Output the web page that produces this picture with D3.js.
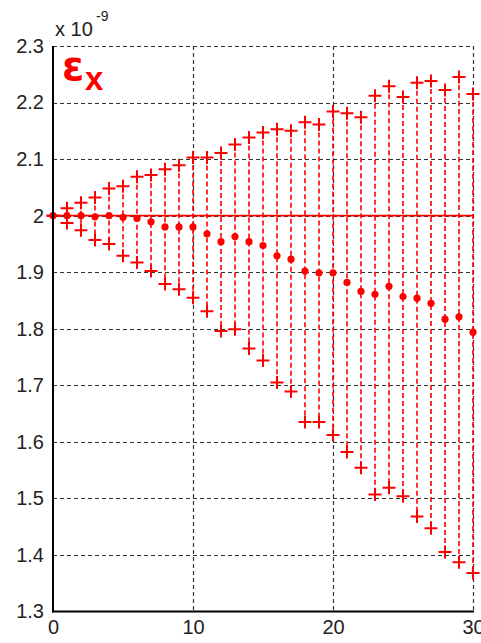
<!DOCTYPE html>
<html>
<head>
<meta charset="utf-8">
<script src="https://cdn.jsdelivr.net/npm/d3@7"></script>
<style>
  html, body { margin: 0; padding: 0; background: #fff; }
  svg { display: block; }
</style>
</head>
<body>
<svg id="chart" width="481" height="643"></svg>
<script>
// Iteration index 0..30
const steps = d3.range(0, 31);

// Upper bound, mean and lower bound of epsilon_x (units of 1e-9)
const upperValues = [2.000, 2.013, 2.023, 2.032, 2.048, 2.052, 2.069, 2.072, 2.082, 2.089, 2.103,
                     2.103, 2.111, 2.126, 2.138, 2.147, 2.153, 2.150, 2.165, 2.161, 2.184,
                     2.181, 2.174, 2.212, 2.229, 2.210, 2.235, 2.238, 2.222, 2.245, 2.215];
const meanValues  = [2.000, 2.000, 2.000, 1.998, 2.000, 1.997, 1.995, 1.989, 1.980, 1.980, 1.980,
                     1.968, 1.954, 1.963, 1.954, 1.947, 1.929, 1.923, 1.902, 1.899, 1.899,
                     1.882, 1.866, 1.861, 1.875, 1.857, 1.854, 1.845, 1.817, 1.821, 1.794];
const lowerValues = [2.000, 1.987, 1.974, 1.957, 1.950, 1.929, 1.917, 1.902, 1.879, 1.870, 1.855,
                     1.831, 1.796, 1.799, 1.765, 1.744, 1.705, 1.689, 1.635, 1.635, 1.612,
                     1.582, 1.554, 1.507, 1.519, 1.504, 1.468, 1.447, 1.405, 1.387, 1.368];

// Reference value drawn as a horizontal line
const referenceValue = 2.0;

const xTicks = [0, 10, 20, 30];
const yTicks = [1.3, 1.4, 1.5, 1.6, 1.7, 1.8, 1.9, 2.0, 2.1, 2.2, 2.3];

const svg = d3.select("#chart");
const plotLeft = 53, plotRight = 473, plotTop = 46, plotBottom = 611.5;

const x = d3.scaleLinear().domain([0, 30]).range([plotLeft, plotRight]);
const y = d3.scaleLinear().domain([1.3, 2.3]).range([plotBottom, plotTop]);

const red = "#ff0000";
const font = "'Liberation Sans', Arial, sans-serif";

// Dashed grid
const grid = svg.append("g");
grid.selectAll("line.h").data(yTicks.filter(d => d > 1.3)).join("line")
  .attr("x1", plotLeft).attr("x2", plotRight)
  .attr("y1", d => Math.round(y(d)) + 0.5).attr("y2", d => Math.round(y(d)) + 0.5)
  .attr("stroke", "#333").attr("stroke-width", 1.2).attr("stroke-dasharray", "4,3");
grid.selectAll("line.v").data(xTicks.filter(d => d > 0)).join("line")
  .attr("x1", d => Math.round(x(d)) + 0.5).attr("x2", d => Math.round(x(d)) + 0.5)
  .attr("y1", plotTop).attr("y2", plotBottom)
  .attr("stroke", "#333").attr("stroke-width", 1.2).attr("stroke-dasharray", "4,3");

// Red dashed range lines between lower and upper bound
const series = steps.map((s, i) => ({ s, up: upperValues[i], mean: meanValues[i], low: lowerValues[i] }));
svg.append("g").selectAll("line").data(series).join("line")
  .attr("x1", d => x(d.s)).attr("x2", d => x(d.s))
  .attr("y1", d => y(d.up)).attr("y2", d => y(d.low))
  .attr("stroke", red).attr("stroke-width", 1.6).attr("stroke-dasharray", "5,3");

// Reference line
svg.append("line")
  .attr("x1", x(0)).attr("x2", x(30))
  .attr("y1", y(referenceValue)).attr("y2", y(referenceValue))
  .attr("stroke", red).attr("stroke-width", 1.6);

// Plus markers for the bounds
const arm = 6.5;
function plus(g, key) {
  g.append("g").selectAll("path").data(series).join("path")
    .attr("d", d => {
      const cx = x(d.s), cy = y(d[key]);
      return `M${cx - arm},${cy}H${cx + arm}M${cx},${cy - arm}V${cy + arm}`;
    })
    .attr("stroke", red).attr("stroke-width", 2).attr("fill", "none");
}
plus(svg, "up");
plus(svg, "low");

// Mean dots
svg.append("g").selectAll("circle").data(series).join("circle")
  .attr("cx", d => x(d.s)).attr("cy", d => y(d.mean)).attr("r", 3.6)
  .attr("fill", red);

// Axes (left and bottom only)
const yAxis = d3.axisLeft(y).tickValues(yTicks).tickSize(0).tickPadding(9)
  .tickFormat(d => d === 2 ? "2" : d3.format(".1f")(d));
const gy = svg.append("g").attr("transform", `translate(${plotLeft},0)`).call(yAxis);
const xAxis = d3.axisBottom(x).tickValues(xTicks).tickSize(0).tickPadding(8)
  .tickFormat(d3.format("d"));
const gx = svg.append("g").attr("transform", `translate(0,${plotBottom})`).call(xAxis);

[gx, gy].forEach(g => {
  g.select(".domain").attr("stroke", "#000").attr("stroke-width", 2);
  g.selectAll("text").attr("font-family", font).attr("font-size", 20).attr("fill", "#222");
});
gx.select(".domain").attr("d", `M${plotLeft - 1},0H${plotRight + 1}`);
gy.select(".domain").attr("d", `M0,${plotTop}V${plotBottom + 1}`);
gx.selectAll("text").attr("dy", "0.71em");

// Exponent annotation
svg.append("text").attr("x", 55).attr("y", 36)
  .attr("font-family", font).attr("font-size", 20).attr("fill", "#222")
  .text("x 10");
svg.append("text").attr("x", 96).attr("y", 21)
  .attr("font-family", font).attr("font-size", 14).attr("fill", "#222")
  .text("-9");

// Quantity label: epsilon with subscript x
svg.append("text").attr("x", 62).attr("y", 80)
  .attr("font-family", "'DejaVu Sans', sans-serif").attr("font-weight", "bold")
  .attr("fill", red).attr("font-size", 40).text("ε");
svg.append("text").attr("x", 85).attr("y", 90)
  .attr("font-family", font).attr("font-weight", "bold")
  .attr("fill", red).attr("font-size", 33).text("x");
</script>
</body>
</html>
